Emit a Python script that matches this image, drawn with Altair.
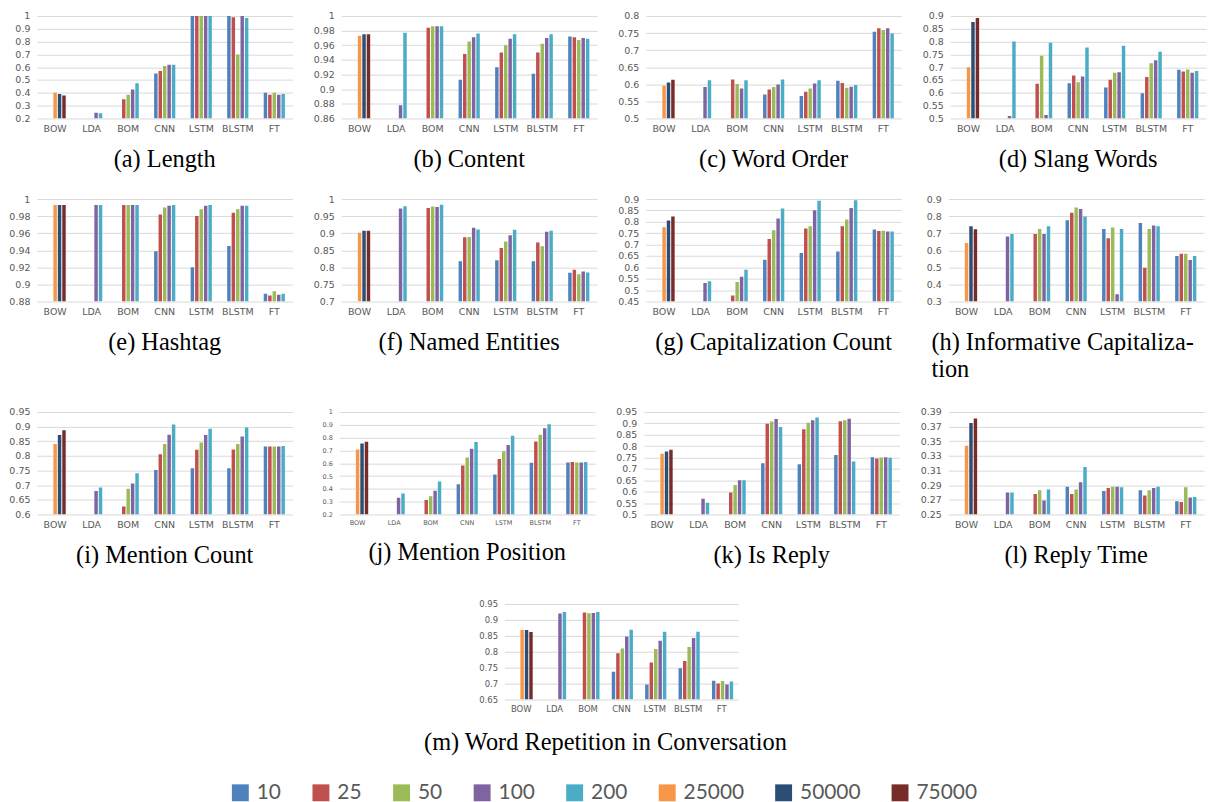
import altair as alt
import pandas as pd

N = None
CATEGORIES = ["BOW", "LDA", "BOM", "CNN", "LSTM", "BLSTM", "FT"]
SERIES = ["10", "25", "50", "100", "200", "25000", "50000", "75000"]
COLORS = ["#4F81BD", "#C0504D", "#9BBB59", "#8064A2", "#4BACC6",
          "#F79646", "#2C4D75", "#772C2A"]

# each row: one category; columns follow SERIES order
LENGTH = [
    [N, N, N, N, N, 0.40, 0.39, 0.38],
    [N, N, N, 0.245, 0.24, N, N, N],
    [N, 0.35, 0.385, 0.425, 0.475, N, N, N],
    [0.55, 0.57, 0.61, 0.62, 0.62, N, N, N],
    [1.0, 1.0, 1.0, 1.0, 1.0, N, N, N],
    [1.0, 0.99, 0.70, 1.0, 0.985, N, N, N],
    [0.40, 0.385, 0.40, 0.385, 0.39, N, N, N],
]
CONTENT = [
    [N, N, N, N, N, 0.973, 0.975, 0.975],
    [N, N, N, 0.878, 0.977, N, N, N],
    [N, 0.984, 0.986, 0.986, 0.986, N, N, N],
    [0.913, 0.948, 0.965, 0.971, 0.976, N, N, N],
    [0.930, 0.950, 0.960, 0.969, 0.975, N, N, N],
    [0.921, 0.950, 0.962, 0.970, 0.975, N, N, N],
    [0.972, 0.971, 0.967, 0.970, 0.969, N, N, N],
]
WORD_ORDER = [
    [N, N, N, N, N, 0.596, 0.605, 0.613],
    [N, N, N, 0.592, 0.612, N, N, N],
    [N, 0.614, 0.601, 0.588, 0.612, N, N, N],
    [0.570, 0.585, 0.592, 0.599, 0.614, N, N, N],
    [0.566, 0.578, 0.588, 0.602, 0.612, N, N, N],
    [0.610, 0.604, 0.590, 0.593, 0.598, N, N, N],
    [0.754, 0.764, 0.759, 0.764, 0.749, N, N, N],
]
SLANG = [
    [N, N, N, N, N, 0.70, 0.876, 0.892],
    [N, N, N, 0.51, 0.80, N, N, N],
    [N, 0.635, 0.745, 0.513, 0.795, N, N, N],
    [0.637, 0.668, 0.641, 0.664, 0.777, N, N, N],
    [0.621, 0.651, 0.678, 0.680, 0.784, N, N, N],
    [0.598, 0.662, 0.715, 0.727, 0.760, N, N, N],
    [0.690, 0.683, 0.691, 0.678, 0.685, N, N, N],
]
HASHTAG = [
    [N, N, N, N, N, 0.993, 0.993, 0.993],
    [N, N, N, 0.993, 0.993, N, N, N],
    [N, 0.993, 0.993, 0.993, 0.993, N, N, N],
    [0.939, 0.982, 0.990, 0.992, 0.993, N, N, N],
    [0.920, 0.980, 0.988, 0.992, 0.993, N, N, N],
    [0.945, 0.984, 0.988, 0.992, 0.992, N, N, N],
    [0.889, 0.887, 0.892, 0.888, 0.889, N, N, N],
]
NAMED = [
    [N, N, N, N, N, 0.901, 0.907, 0.907],
    [N, N, N, 0.972, 0.979, N, N, N],
    [N, 0.974, 0.978, 0.977, 0.983, N, N, N],
    [0.818, 0.888, 0.889, 0.916, 0.911, N, N, N],
    [0.821, 0.857, 0.876, 0.894, 0.910, N, N, N],
    [0.818, 0.873, 0.862, 0.904, 0.907, N, N, N],
    [0.784, 0.793, 0.780, 0.788, 0.785, N, N, N],
]
CAP_COUNT = [
    [N, N, N, N, N, 0.776, 0.806, 0.823],
    [N, N, N, 0.531, 0.539, N, N, N],
    [N, 0.477, 0.536, 0.559, 0.590, N, N, N],
    [0.633, 0.725, 0.763, 0.815, 0.858, N, N, N],
    [0.663, 0.771, 0.781, 0.851, 0.893, N, N, N],
    [0.670, 0.781, 0.810, 0.861, 0.895, N, N, N],
    [0.766, 0.760, 0.761, 0.758, 0.758, N, N, N],
]
INFO_CAP = [
    [N, N, N, N, N, 0.642, 0.740, 0.723],
    [N, N, N, 0.680, 0.695, N, N, N],
    [N, 0.695, 0.725, 0.695, 0.740, N, N, N],
    [0.776, 0.820, 0.850, 0.842, 0.798, N, N, N],
    [0.725, 0.670, 0.733, 0.343, 0.725, N, N, N],
    [0.760, 0.498, 0.725, 0.745, 0.740, N, N, N],
    [0.567, 0.580, 0.580, 0.543, 0.567, N, N, N],
]
MENTION_COUNT = [
    [N, N, N, N, N, 0.841, 0.871, 0.888],
    [N, N, N, 0.680, 0.692, N, N, N],
    [N, 0.627, 0.688, 0.706, 0.741, N, N, N],
    [0.752, 0.806, 0.841, 0.872, 0.907, N, N, N],
    [0.758, 0.821, 0.846, 0.871, 0.893, N, N, N],
    [0.758, 0.822, 0.841, 0.866, 0.897, N, N, N],
    [0.832, 0.832, 0.832, 0.832, 0.834, N, N, N],
]
MENTION_POS = [
    [N, N, N, N, N, 0.708, 0.753, 0.767],
    [N, N, N, 0.330, 0.363, N, N, N],
    [N, 0.312, 0.343, 0.385, 0.458, N, N, N],
    [0.436, 0.582, 0.645, 0.712, 0.766, N, N, N],
    [0.512, 0.632, 0.693, 0.742, 0.814, N, N, N],
    [0.603, 0.770, 0.823, 0.872, 0.905, N, N, N],
    [0.605, 0.610, 0.605, 0.605, 0.610, N, N, N],
]
IS_REPLY = [
    [N, N, N, N, N, 0.767, 0.776, 0.784],
    [N, N, N, 0.569, 0.551, N, N, N],
    [N, 0.596, 0.629, 0.650, 0.650, N, N, N],
    [0.725, 0.898, 0.908, 0.919, 0.884, N, N, N],
    [0.720, 0.874, 0.903, 0.914, 0.926, N, N, N],
    [0.761, 0.909, 0.914, 0.920, 0.732, N, N, N],
    [0.751, 0.746, 0.750, 0.751, 0.749, N, N, N],
]
REPLY_TIME = [
    [N, N, N, N, N, 0.344, 0.375, 0.381],
    [N, N, N, 0.280, 0.280, N, N, N],
    [N, 0.278, 0.283, 0.269, 0.284, N, N, N],
    [0.288, 0.278, 0.284, 0.294, 0.315, N, N, N],
    [0.282, 0.286, 0.288, 0.288, 0.287, N, N, N],
    [0.283, 0.276, 0.283, 0.286, 0.288, N, N, N],
    [0.268, 0.267, 0.287, 0.273, 0.274, N, N, N],
]
WORD_REP = [
    [N, N, N, N, N, 0.868, 0.868, 0.862],
    [N, N, N, 0.920, 0.925, N, N, N],
    [N, 0.923, 0.921, 0.922, 0.925, N, N, N],
    [0.737, 0.795, 0.810, 0.848, 0.869, N, N, N],
    [0.697, 0.766, 0.809, 0.835, 0.863, N, N, N],
    [0.748, 0.771, 0.815, 0.843, 0.863, N, N, N],
    [0.709, 0.700, 0.708, 0.697, 0.707, N, N, N],
]

TICKS_A = [0.2, 0.3, 0.4, 0.5, 0.6, 0.7, 0.8, 0.9, 1]
TICKS_B = [0.86, 0.88, 0.9, 0.92, 0.94, 0.96, 0.98, 1]
TICKS_C = [0.5, 0.55, 0.6, 0.65, 0.7, 0.75, 0.8]
TICKS_D = [0.5, 0.55, 0.6, 0.65, 0.7, 0.75, 0.8, 0.85, 0.9]
TICKS_E = [0.88, 0.9, 0.92, 0.94, 0.96, 0.98, 1]
TICKS_F = [0.7, 0.75, 0.8, 0.85, 0.9, 0.95, 1]
TICKS_G = [0.45, 0.5, 0.55, 0.6, 0.65, 0.7, 0.75, 0.8, 0.85, 0.9]
TICKS_H = [0.3, 0.4, 0.5, 0.6, 0.7, 0.8, 0.9]
TICKS_I = [0.6, 0.65, 0.7, 0.75, 0.8, 0.85, 0.9, 0.95]
TICKS_J = [0.2, 0.3, 0.4, 0.5, 0.6, 0.7, 0.8, 0.9, 1]
TICKS_K = [0.5, 0.55, 0.6, 0.65, 0.7, 0.75, 0.8, 0.85, 0.9, 0.95]
TICKS_L = [0.25, 0.27, 0.29, 0.31, 0.33, 0.35, 0.37, 0.39]
TICKS_M = [0.65, 0.7, 0.75, 0.8, 0.85, 0.9, 0.95]

# bars of the neural/LDA/BOM models use five slots; BOW's three vocab sizes sit on the right three
SLOT_NAMES = ["s0", "s1", "s2", "s3", "s4"]
SLOT_OF = {"10": "s0", "25": "s1", "50": "s2", "100": "s3", "200": "s4",
           "25000": "s2", "50000": "s3", "75000": "s4"}

GRID = "#D9D9D9"
LABEL = "#595959"
SANS = "DejaVu Sans"
SERIF = "Liberation Serif"


def panel(caption, rows, ticks, width=257, height=103, lsize=9.5,
          anchor="middle", dx=0, offset=15):
    recs = []
    for cat, vals in zip(CATEGORIES, rows):
        for s, v in zip(SERIES, vals):
            if v is not None:
                recs.append({"model": cat, "series": s, "slot": SLOT_OF[s], "value": v})
    df = pd.DataFrame(recs)
    lo, hi = ticks[0], ticks[-1]
    title = alt.TitleParams(caption, orient="bottom", anchor=anchor, font=SERIF,
                            fontSize=24.5, fontWeight="normal", color="black",
                            offset=offset, lineHeight=27, dx=dx)
    return alt.Chart(df).mark_bar(clip=True).encode(
        x=alt.X("model:N", sort=CATEGORIES,
                scale=alt.Scale(domain=CATEGORIES, paddingInner=0.42, paddingOuter=0.21),
                axis=alt.Axis(title=None, labelAngle=0, labelFont=SANS, labelFontSize=lsize,
                              labelColor=LABEL, labelPadding=5, ticks=False, domain=False,
                              grid=False)),
        xOffset=alt.XOffset("slot:N", scale=alt.Scale(domain=SLOT_NAMES, paddingInner=0.22)),
        y=alt.Y("value:Q", scale=alt.Scale(domain=[lo, hi], zero=False, nice=False),
                axis=alt.Axis(title=None, values=ticks, format="~g", labelFont=SANS,
                              labelFontSize=lsize, labelColor=LABEL, labelPadding=7,
                              ticks=False, domain=False, grid=True, gridColor=GRID,
                              minExtent=27, maxExtent=27)),
        y2=alt.datum(lo),
        color=alt.Color("series:N", sort=SERIES,
                        scale=alt.Scale(domain=SERIES, range=COLORS),
                        legend=alt.Legend(title=None, orient="none", direction="horizontal",
                                          columns=8, legendX=194, legendY=770,
                                          symbolType="square", symbolSize=289,
                                          symbolStrokeWidth=0, labelFont="Lato",
                                          labelFontSize=21, labelColor=LABEL,
                                          labelOffset=6, columnPadding=29)),
    ).properties(width=width, height=height, title=title)


row1 = alt.hconcat(
    panel("(a) Length", LENGTH, TICKS_A),
    panel("(b) Content", CONTENT, TICKS_B),
    panel("(c) Word Order", WORD_ORDER, TICKS_C),
    panel("(d) Slang Words", SLANG, TICKS_D),
    spacing=20,
)
row2 = alt.hconcat(
    panel("(e) Hashtag", HASHTAG, TICKS_E),
    panel("(f) Named Entities", NAMED, TICKS_F),
    panel("(g) Capitalization Count", CAP_COUNT, TICKS_G),
    panel(["(h)  Informative  Capitaliza-", "tion"], INFO_CAP, TICKS_H,
          anchor="start", dx=10),
    spacing=20,
)
row3 = alt.hconcat(
    panel("(i) Mention Count", MENTION_COUNT, TICKS_I),
    panel("(j) Mention Position", MENTION_POS, TICKS_J, lsize=6.5),
    panel("(k) Is Reply", IS_REPLY, TICKS_K),
    panel("(l) Reply Time", REPLY_TIME, TICKS_L),
    spacing=20,
)

# empty layout block that pushes the last panel to the middle of the page
spacer = alt.Chart(pd.DataFrame({"v": [0]})).mark_point(opacity=0).encode(
    x=alt.X("v:Q", axis=None), y=alt.Y("v:Q", axis=None)
).properties(width=380, height=1)
row4 = alt.hconcat(
    spacer,
    panel("(m) Word Repetition in Conversation", WORD_REP, TICKS_M,
          width=235, height=96, lsize=8.5, dx=-16, offset=18),
    spacing=8,
)

grid = alt.vconcat(row1, alt.vconcat(row2, row3, spacing=26), spacing=23)
chart = alt.vconcat(grid, row4, spacing=33).properties(
    padding={"left": 0, "top": 1, "right": 0, "bottom": 0}
).configure_view(stroke=None)

chart.save("out.html", embed_options={"renderer": "svg", "actions": False})
